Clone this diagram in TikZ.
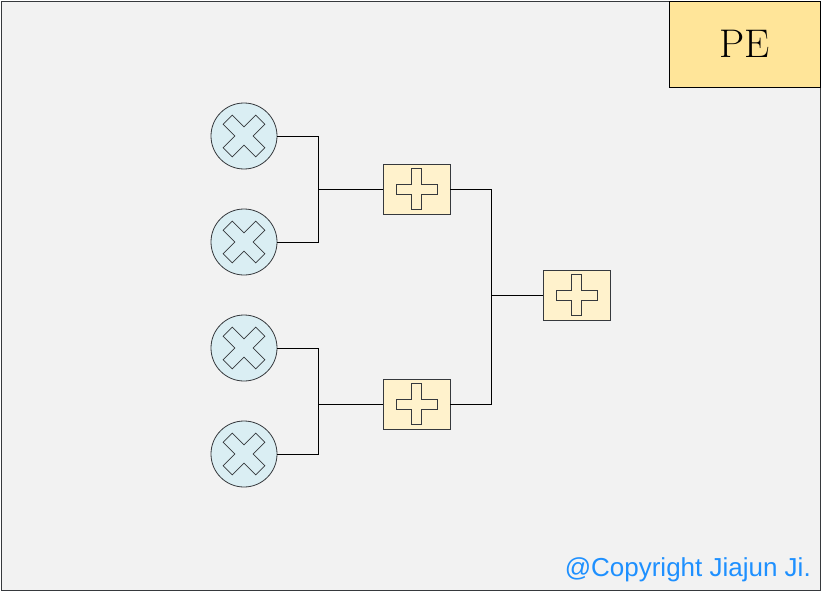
\documentclass[tikz,border=0pt]{standalone}
\usepackage{fontspec}
\newfontfamily\copyfont{Liberation Sans}
\definecolor{bgc}{HTML}{F2F2F2}
\definecolor{pec}{HTML}{FFE599}
\definecolor{mulc}{HTML}{DAEEF3}
\definecolor{addc}{HTML}{FFF2CC}
\definecolor{edgec}{HTML}{36393D}
\definecolor{copyc}{HTML}{1E90FF}
\newcommand\PlusPath[2]{(-#1,-#2) -- (-#2,-#2) -- (-#2,-#1) -- (#2,-#1) -- (#2,-#2) -- (#1,-#2) -- (#1,#2) -- (#2,#2) -- (#2,#1) -- (-#2,#1) -- (-#2,#2) -- (-#1,#2) -- cycle}
\begin{document}
\begin{tikzpicture}[x=1pt,y=-1pt,
  mulnode/.style={circle,draw=edgec,fill=mulc,minimum size=66pt,inner sep=0pt,line width=0.8pt},
  addnode/.style={rectangle,draw=edgec,fill=addc,minimum width=67pt,minimum height=50pt,inner sep=0pt,line width=0.8pt},
  glyph/.style={draw=edgec,line width=0.7pt,line join=miter},
  wire/.style={draw=black,line width=0.8pt}]
\useasboundingbox (0,0) rectangle (821,591);
\node[draw=edgec,fill=bgc,line width=0.8pt,minimum width=819pt,minimum height=589pt,inner sep=0pt] (bg) at (410.5,295.5) {};
\node[draw=black,fill=pec,line width=0.8pt,minimum width=151pt,minimum height=86pt,inner sep=0pt,font=\fontsize{40}{40}\selectfont] (pe) at (744.5,44) {PE};
\node[mulnode] (m1) at (244,136) {};
\node[mulnode] (m2) at (244,242) {};
\node[mulnode] (m3) at (244,348) {};
\node[mulnode] (m4) at (244,454) {};
\foreach \n in {m1,m2,m3,m4}{
  \draw[glyph,shift={(\n.center)},rotate=45] \PlusPath{23}{6.5};
}
\node[addnode] (a1) at (416.5,189) {};
\node[addnode] (a2) at (416.5,404) {};
\node[addnode] (a3) at (576.5,295) {};
\foreach \n in {a1,a2,a3}{
  \draw[glyph,shift={(\n.center)}] \PlusPath{20.5}{5};
}
\coordinate (j1) at (318,189);
\coordinate (j2) at (318,404);
\coordinate (j3) at (491,295);
\draw[wire] (m1.east) -| (j1);
\draw[wire] (m2.east) -| (j1);
\draw[wire] (j1) -- (a1.west);
\draw[wire] (m3.east) -| (j2);
\draw[wire] (m4.east) -| (j2);
\draw[wire] (j2) -- (a2.west);
\draw[wire] (a1.east) -| (j3);
\draw[wire] (a2.east) -| (j3);
\draw[wire] (j3) -- (a3.west);
\node[anchor=base east,inner sep=0pt,text=copyc,font=\copyfont\fontsize{26}{26}\selectfont] (cp) at (811,576) {@Copyright Jiajun Ji.};
\end{tikzpicture}
\end{document}
